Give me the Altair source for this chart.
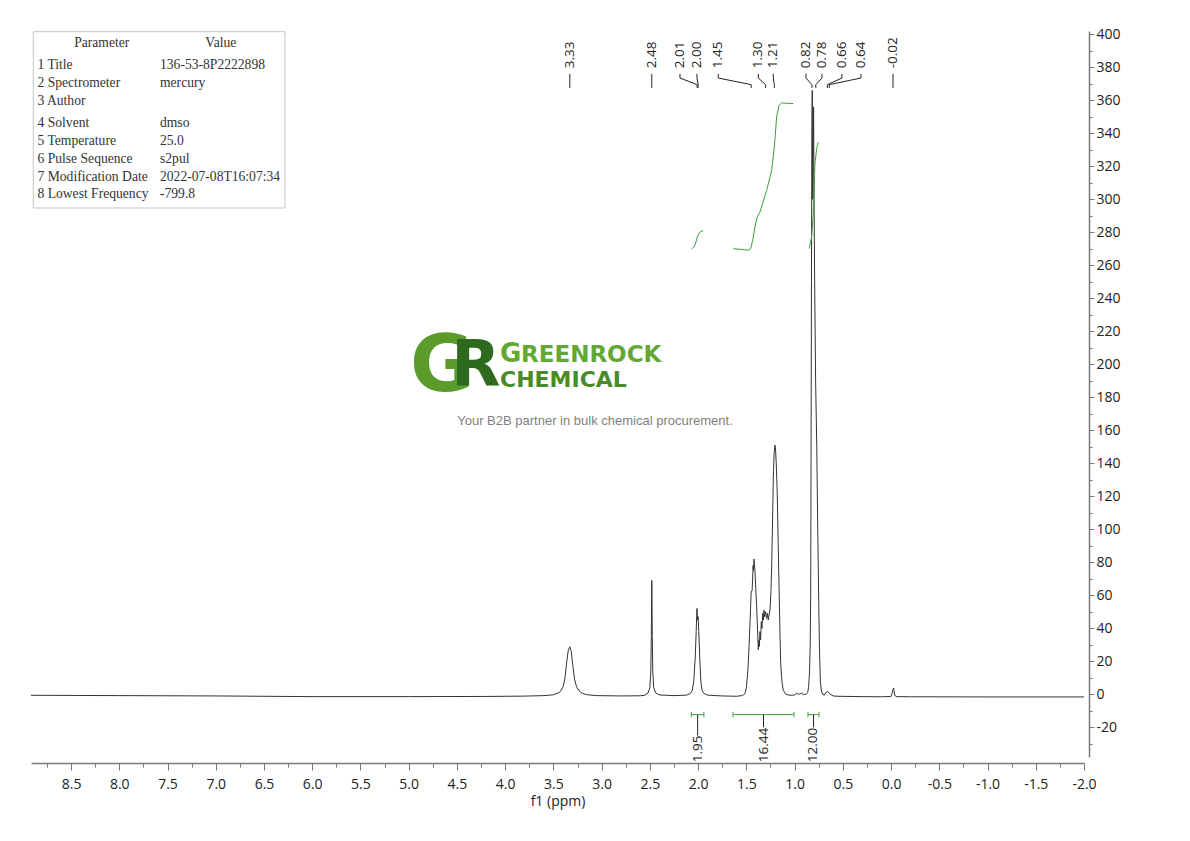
import altair as alt
import pandas as pd

# ---------------- spectrum trace ----------------
spec_ppm = (
    [8.915, 8.0, 7.0, 6.0, 5.0, 4.2, 3.8, 3.6, 3.50]
    + [3.45, 3.43, 3.40, 3.38, 3.36, 3.345, 3.33, 3.315, 3.30, 3.28, 3.26, 3.23, 3.20, 3.15, 3.05, 2.80, 2.60]
    + [2.55, 2.52, 2.50, 2.49, 2.485, 2.48, 2.475, 2.47, 2.46, 2.44, 2.40, 2.25, 2.12]
    + [2.08, 2.06, 2.045, 2.03, 2.02, 2.012, 2.006, 2.0, 1.993, 1.983, 1.972, 1.96, 1.94, 1.90, 1.75, 1.60, 1.55]
    + [1.53, 1.514, 1.50, 1.49, 1.48, 1.462, 1.45, 1.44, 1.43, 1.425,
       1.421, 1.411, 1.393, 1.376, 1.37, 1.365, 1.359, 1.352, 1.345, 1.338,
       1.33, 1.324, 1.317, 1.31, 1.30, 1.29, 1.28, 1.273, 1.262, 1.255,
       1.245, 1.237, 1.23, 1.221, 1.212, 1.203, 1.197, 1.19, 1.179, 1.17,
       1.159, 1.15, 1.144, 1.13, 1.117, 1.09, 1.048, 1.0, 0.978, 0.96,
       0.927, 0.90, 0.875]
    + [0.865, 0.855, 0.845, 0.838, 0.833, 0.829, 0.825, 0.821, 0.817, 0.812,
       0.807, 0.803, 0.798, 0.792, 0.782, 0.770, 0.760, 0.750, 0.742, 0.733,
       0.722, 0.71, 0.69, 0.675, 0.655, 0.635, 0.60]
    + [0.55, 0.3, 0.1, 0.0, -0.01, -0.02, -0.026, -0.032, -0.04, -0.06, -0.2, -1.0, -2.0]
)
spec_val = (
    [-0.6, -0.8, -1.0, -1.4, -1.4, -1.3, -1.1, -0.8, -0.3]
    + [0.8, 1.5, 4.5, 10, 20.5, 27, 28.8, 26, 18, 9, 4.5, 1.8, 0.6, -0.3, -0.8, -1.0, -0.9]
    + [-0.5, 0.8, 4, 14, 35, 69, 35, 14, 4, 0.8, -0.4, -0.8, -0.5]
    + [0.5, 2.5, 8, 22, 38, 52, 45, 47, 38, 22, 8, 2.5, 0.5, -0.5, -1.0, -1.2, -0.8]
    + [-0.3, 0.4, 4, 10, 18.6, 42.8, 62, 63, 78, 75,
       82, 75, 53, 27, 33, 29, 38, 33, 44, 40,
       49, 45, 51, 47, 50, 46, 49, 45, 49, 51,
       62, 79, 100, 130, 146, 151, 148, 140, 120, 92,
       59, 33, 18.6, 7, 2.4, 0, -0.6, -0.4, 0.6, 0.0,
       0.6, -0.2, 0.3]
    + [1, 4, 14, 30, 60, 150, 250, 340, 366, 300,
       330, 356, 300, 250, 190, 150, 100, 57, 28, 8,
       2, 0, -0.5, 1.2, 1.6, 0.3, -1.0]
    + [-1.2, -1.4, -1.5, -1.3, 0.5, 3.0, 3.8, 1.5, -0.8, -1.4, -1.5, -1.6, -1.6]
)

# ---------------- integral curves ----------------
int1_ppm = [2.067, 2.045, 2.025, 2.008, 1.99, 1.97, 1.946]
int1_val = [270.1, 270.8, 273.5, 277.2, 279.6, 280.6, 280.9]
int2_ppm = [1.635, 1.532, 1.480, 1.455, 1.434, 1.411, 1.387, 1.359, 1.289, 1.237, 1.210, 1.186, 1.162, 1.134, 1.013]
int2_val = [270.1, 269.5, 269.1, 270.1, 275.2, 283.2, 289.3, 292.3, 305.5, 317.6, 331.7, 349.9, 356.9, 358.4, 358.0]
int3_ppm = [0.848, 0.823, 0.806, 0.789, 0.771, 0.755]
int3_val = [270.1, 277.2, 291.3, 321.6, 330.7, 334.7]

# ---------------- integration ranges ----------------
int_from = [2.07, 1.638, 0.861]
int_to = [1.94, 1.006, 0.747]
int_labels = ["1.95", "16.44", "12.00"]
int_level = -12.3
int_tick_end = [-25, -20, -20]
int_text_level = -41.2

# ---------------- peak labels ----------------
peak_labels = ["3.33", "2.48", "2.01", "2.00", "1.45", "1.30", "1.21", "0.82", "0.78", "0.66", "0.64", "-0.02"]
peak_ppm = [3.33, 2.48, 2.01, 2.00, 1.45, 1.30, 1.21, 0.82, 0.78, 0.66, 0.64, -0.02]
label_ppm = [3.33, 2.48, 2.188, 2.012, 1.791, 1.376, 1.221, 0.882, 0.716, 0.509, 0.312, -0.02]
label_text_level = 379.4
connector_levels = [376.0, 373.5, 369.5, 367.5]

# ---------------- parameter table ----------------
table_head = ["Parameter", "Value"]
params_a = ["1 Title", "2 Spectrometer", "3 Author"]
values_a = ["136-53-8P2222898", "mercury", ""]
params_b = ["4 Solvent", "5 Temperature", "6 Pulse Sequence", "7 Modification Date", "8 Lowest Frequency"]
values_b = ["dmso", "25.0", "s2pul", "2022-07-08T16:07:34", "-799.8"]

# ---------------- axis ticks ----------------
x_ticks = [-2.0 + 0.25 * i for i in range(44)]
y_ticks = list(range(-30, 401, 10))

FONT = "Open Sans"
GREEN = "#3f9e3f"
INK = "#222222"

spec = pd.DataFrame({"ppm": spec_ppm, "val": spec_val, "i": range(len(spec_ppm))})

integ = pd.concat([
    pd.DataFrame({"ppm": int1_ppm, "val": int1_val, "g": "a", "i": range(len(int1_ppm))}),
    pd.DataFrame({"ppm": int2_ppm, "val": int2_val, "g": "b", "i": range(len(int2_ppm))}),
    pd.DataFrame({"ppm": int3_ppm, "val": int3_val, "g": "c", "i": range(len(int3_ppm))}),
])

bars = pd.DataFrame({
    "ppm": int_from, "ppm2": int_to,
    "mid": [(a + b) / 2 for a, b in zip(int_from, int_to)],
    "val": [int_level] * 3, "end": int_tick_end,
    "lab": int_labels, "tv": [int_text_level] * 3,
})
caps = pd.DataFrame({
    "ppm": int_from + int_to,
    "val": [int_level + 1.6] * 6,
    "val2": [int_level - 1.6] * 6,
})

conn_rows = []
for k, (lab, p, lp) in enumerate(zip(peak_labels, peak_ppm, label_ppm)):
    xs = [lp, lp, p, p]
    for j, (xx, yy) in enumerate(zip(xs, connector_levels)):
        conn_rows.append({"ppm": xx, "val": yy, "g": k, "i": j})
conn = pd.DataFrame(conn_rows)
plabels = pd.DataFrame({"ppm": label_ppm, "val": [label_text_level] * len(peak_labels), "lab": peak_labels})

major_x = "abs(datum.value * 2 - round(datum.value * 2)) < 0.001"
major_y = "datum.value % 20 == 0"
x_axis = alt.Axis(
    values=x_ticks, tickCount=500,
    labelExpr=f"{major_x} ? replace(format(datum.value, '.1f'), '\u2212', '-') : ''",
    tickSize={"condition": {"test": major_x, "value": 7}, "value": 4},
    title="f1 (ppm)", titleFont=FONT, titleFontSize=14, titleFontWeight="normal",
    titleColor=INK, titlePadding=3,
    labelFont=FONT, labelFontSize=14, labelColor=INK, labelPadding=7,
    labelFlush=False, labelOverlap=False,
    domainColor="#7a7a7a", domainWidth=1.5, tickColor="#7a7a7a", tickWidth=1,
    grid=False, offset=6,
)
y_axis = alt.Axis(
    orient="right", values=y_ticks, tickCount=500,
    labelExpr=f"{major_y} ? replace(format(datum.value, 'd'), '\u2212', '-') : ''",
    tickSize={"condition": {"test": major_y, "value": 5}, "value": 3},
    title="y", titleOpacity=0,
    labelFont=FONT, labelFontSize=14, labelColor=INK, labelPadding=2,
    labelOverlap=False, labelFlush=False,
    domainColor="#7a7a7a", domainWidth=1.5, tickColor="#7a7a7a", tickWidth=1,
    grid=False, offset=5,
)

X = alt.X("ppm:Q", scale=alt.Scale(domain=[-2.0, 8.915], reverse=True, nice=False, zero=False), axis=x_axis)
Y = alt.Y("val:Q", scale=alt.Scale(domain=[-38, 402], nice=False, zero=False), axis=y_axis)

one = alt.Data(values=[{"k": 0}])

spectrum = alt.Chart(spec).mark_line(color="#333333", strokeWidth=1).encode(x=X, y=Y, order="i:Q")

integrals = alt.Chart(integ).mark_line(color=GREEN, strokeWidth=1).encode(
    x="ppm:Q", y="val:Q", detail="g:N", order="i:Q")

bar_rules = alt.Chart(bars).mark_rule(color=GREEN, strokeWidth=1).encode(
    x="ppm:Q", x2="ppm2", y="val:Q")
cap_rules = alt.Chart(caps).mark_rule(color=GREEN, strokeWidth=1).encode(
    x="ppm:Q", y="val:Q", y2="val2")
mid_rules = alt.Chart(bars).mark_rule(color=INK, strokeWidth=1).encode(
    x="mid:Q", y="val:Q", y2="end")
int_text = alt.Chart(bars).mark_text(
    angle=270, align="left", baseline="middle", font=FONT, fontSize=13.5, color=INK
).encode(x="mid:Q", y="tv:Q", text="lab:N")

connectors = alt.Chart(conn).mark_line(color=INK, strokeWidth=1).encode(
    x="ppm:Q", y="val:Q", detail="g:N", order="i:Q")
peak_text = alt.Chart(plabels).mark_text(
    angle=270, align="left", baseline="middle", font=FONT, fontSize=13.5, color=INK
).encode(x="ppm:Q", y="val:Q", text="lab:N")

# parameter table (annotation box)
tbl_box = alt.Chart(one).mark_rect(fill="white", stroke="#c4c4c4", strokeWidth=1).encode(
    x=alt.value(2.3), x2=alt.value(254), y=alt.value(0.7), y2=alt.value(177))
tfont = dict(font="Liberation Serif", fontSize=13.6, color="#333333", baseline="alphabetic")
t_h1 = alt.Chart(one).mark_text(text=table_head[0], align="center", **tfont).encode(
    x=alt.value(70.7), y=alt.value(16.3))
t_h2 = alt.Chart(one).mark_text(text=table_head[1], align="center", **tfont).encode(
    x=alt.value(189.8), y=alt.value(16.3))
t_pa = alt.Chart(one).mark_text(text=params_a, align="left", lineHeight=18, **tfont).encode(
    x=alt.value(6.5), y=alt.value(38.3))
t_va = alt.Chart(one).mark_text(text=values_a, align="left", lineHeight=18, **tfont).encode(
    x=alt.value(129), y=alt.value(38.3))
t_pb = alt.Chart(one).mark_text(text=params_b, align="left", lineHeight=17.8, **tfont).encode(
    x=alt.value(6.5), y=alt.value(96.3))
t_vb = alt.Chart(one).mark_text(text=values_b, align="left", lineHeight=17.8, **tfont).encode(
    x=alt.value(129), y=alt.value(96.3))

# watermark logo
logo_g = alt.Chart(one).mark_text(text="G", font="DejaVu Sans", fontWeight="bold", fontSize=78,
                                  color="#5a9b2c", align="center", baseline="middle").encode(
    x=alt.value(411), y=alt.value(337))
logo_r = alt.Chart(one).mark_text(text="R", font="DejaVu Sans", fontWeight="bold", fontSize=64,
                                  color="#2d6a1e", align="center", baseline="middle").encode(
    x=alt.value(445), y=alt.value(335.5))
logo_w1a = alt.Chart(one).mark_text(text="G", font="DejaVu Sans", fontWeight="bold", fontSize=26,
                                    color="#62a832", align="left", baseline="alphabetic").encode(
    x=alt.value(469), y=alt.value(331))
logo_w1b = alt.Chart(one).mark_text(text="REENROCK", font="DejaVu Sans", fontWeight="bold", fontSize=23,
                                    color="#62a832", align="left", baseline="alphabetic").encode(
    x=alt.value(490), y=alt.value(331))
logo_w2 = alt.Chart(one).mark_text(text="CHEMICAL", font="DejaVu Sans", fontWeight="bold", fontSize=22,
                                   color="#4a8a2a", align="left", baseline="alphabetic").encode(
    x=alt.value(469), y=alt.value(356))
tagline = alt.Chart(one).mark_text(text="Your B2B partner in bulk chemical procurement.",
                                   font="Liberation Sans", fontSize=13, color="#808080",
                                   align="center", baseline="middle").encode(
    x=alt.value(564), y=alt.value(390))

chart = alt.layer(
    spectrum, integrals, bar_rules, cap_rules, mid_rules, int_text, connectors, peak_text,
    tbl_box, t_h1, t_h2, t_pa, t_va, t_pb, t_vb,
    logo_g, logo_r, logo_w1a, logo_w1b, logo_w2, tagline,
).properties(
    width=1053, height=726,
    autosize=alt.AutoSizeParams(type="none"),
    padding={"left": 23, "top": 23, "right": 70, "bottom": 70},
    background="white",
).configure_view(strokeWidth=0)

chart.save("out.html", embed_options={"renderer": "svg", "actions": False})
